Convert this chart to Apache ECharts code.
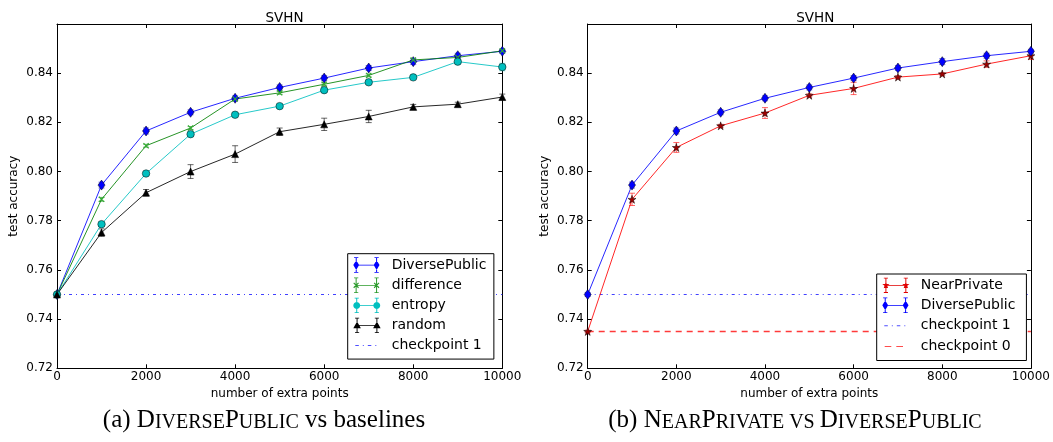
<!DOCTYPE html>
<html><head><meta charset="utf-8">
<script src="https://cdn.jsdelivr.net/npm/echarts@6/dist/echarts.min.js"></script>
<style>html,body{margin:0;padding:0;background:#fff}#c{width:1053px;height:442px}</style>
</head><body><div id="c"></div>
<script>
// ---------- data ----------
const xPoints = [0, 1000, 2000, 3000, 4000, 5000, 6000, 7000, 8000, 9000, 10000];
const xTicks = [0, 2000, 4000, 6000, 8000, 10000];
const yTicks = [0.72, 0.74, 0.76, 0.78, 0.80, 0.82, 0.84];

const diversePublic    = [0.7500, 0.7945, 0.8165, 0.8241, 0.8298, 0.8342, 0.8380, 0.8421, 0.8447, 0.8471, 0.8489];
const diversePublicErr = [0.0008, 0.0012, 0.0012, 0.0010, 0.0010, 0.0010, 0.0010, 0.0010, 0.0012, 0.0010, 0.0008];
const difference       = [0.7500, 0.7887, 0.8105, 0.8177, 0.8295, 0.8320, 0.8355, 0.8391, 0.8454, 0.8464, 0.8491];
const differenceErr    = [0.0005, 0.0008, 0.0006, 0.0006, 0.0006, 0.0006, 0.0006, 0.0006, 0.0006, 0.0006, 0.0006];
const entropy          = [0.7500, 0.7786, 0.7992, 0.8152, 0.8231, 0.8266, 0.8331, 0.8363, 0.8383, 0.8447, 0.8425];
const entropyErr       = [0.0005, 0.0008, 0.0008, 0.0008, 0.0006, 0.0006, 0.0008, 0.0008, 0.0006, 0.0008, 0.0015];
const random           = [0.7500, 0.7752, 0.7914, 0.8000, 0.8071, 0.8162, 0.8192, 0.8224, 0.8263, 0.8274, 0.8303];
const randomErr        = [0.0005, 0.0015, 0.0013, 0.0028, 0.0034, 0.0015, 0.0025, 0.0025, 0.0010, 0.0008, 0.0012];
const nearPrivate      = [0.7350, 0.7887, 0.8098, 0.8186, 0.8238, 0.8310, 0.8338, 0.8384, 0.8397, 0.8437, 0.8471];
const nearPrivateErr   = [0.0005, 0.0025, 0.0020, 0.0006, 0.0022, 0.0006, 0.0025, 0.0006, 0.0005, 0.0013, 0.0015];
const checkpoint1 = 0.75;
const checkpoint0 = 0.735;

const titles = ['SVHN', 'SVHN'];
const xName = 'number of extra points';
const yName = 'test accuracy';

// ---------- style ----------
const FONT = 'DejaVu Sans';
const SERIF = 'Liberation Serif';
const BLUE = '#0000ff', GREEN = '#008000', CYAN = '#00bfbf', BLACK = '#000000', RED = '#ff0000';

// ---------- marker paths ----------
const rect = (x1, y1, x2, y2) => `M${x1},${y1}H${x2}V${y2}H${x1}Z`;
const tiny = (x, y) => `M${x},${y}L${x + 0.05},${y}L${x},${y + 0.05}Z`;
function poly(pts) { return 'M' + pts.map(p => p[0].toFixed(2) + ',' + p[1].toFixed(2)).join('L') + 'Z'; }
function markerPath(type, cx, cy, s) {
  if (type === 'diamond') return poly([[cx, cy - 50 * s], [cx + 30 * s, cy], [cx, cy + 50 * s], [cx - 30 * s, cy]]);
  if (type === 'circle') { const p = []; for (let i = 0; i < 20; i++) { const a = i / 20 * Math.PI * 2; p.push([cx + 36 * s * Math.cos(a), cy + 36 * s * Math.sin(a)]); } return poly(p); }
  if (type === 'triangle') return poly([[cx, cy - 40 * s], [cx + 40 * s, cy + 30 * s], [cx - 40 * s, cy + 30 * s]]);
  if (type === 'x') {
    const a = 25 * s, t = 4 * s;
    return poly([[cx - a + t, cy - a - t], [cx + a + t, cy + a - t], [cx + a - t, cy + a + t], [cx - a - t, cy - a + t]]) +
           poly([[cx + a - t, cy - a - t], [cx + a + t, cy - a + t], [cx - a + t, cy + a + t], [cx - a - t, cy + a - t]]);
  }
  if (type === 'star') { const p = []; for (let i = 0; i < 10; i++) { const a = -Math.PI / 2 + i * Math.PI / 5; const r = (i % 2 ? 0.382 : 1) * 40 * s; p.push([cx + r * Math.cos(a), cy + r * Math.sin(a)]); } return poly(p); }
  return '';
}
const symbolOf = t => t === 'x' || t === 'star' ? 'path://' + markerPath(t, 0, 0, 1) : t;

const IW = 33.4, IH = 16; // legend icon size (px); path units = px*10
function errIcon(marker) {
  let p = tiny(0, 0) + tiny(IW * 10 - 0.1, IH * 10 - 0.1);
  p += rect(20, 76, 230, 84);
  for (const cx of [20, 230]) {
    p += rect(cx - 5, 0, cx + 5, 160) + rect(cx - 22, 0, cx + 22, 8) + rect(cx - 22, 152, cx + 22, 160);
    p += markerPath(marker, cx, 80, 1);
  }
  return 'path://' + p;
}
function dashIcon(segs) {
  let p = tiny(0, 0) + tiny(IW * 10 - 0.1, IH * 10 - 0.1);
  for (const s of segs) p += rect(s[0], 75, s[1], 85);
  return 'path://' + p;
}
const dashDotIcon = dashIcon([[20, 55], [95, 105], [145, 180], [220, 230]]);
const dashedIcon = dashIcon([[24, 90], [140, 207]]);

// ---------- series builders ----------
function lineSeries(name, ys, g, o) {
  return {
    type: 'line', name, xAxisIndex: g * 2, yAxisIndex: g * 2,
    data: xPoints.map((x, i) => [x, ys[i]]),
    symbol: symbolOf(o.symbol), symbolSize: o.size, showAllSymbol: true,
    lineStyle: { color: o.line, width: 1, opacity: 0.85 },
    itemStyle: { color: o.fill, borderColor: '#000', borderWidth: o.bw === undefined ? 0.5 : o.bw },
    emphasis: { disabled: true }, silent: true, z: 3
  };
}
function errSeries(name, ys, errs, g, color) {
  return {
    type: 'custom', name: name + ' error', xAxisIndex: g * 2, yAxisIndex: g * 2,
    data: xPoints.map((x, i) => [x, ys[i], errs[i]]),
    encode: { x: 0, y: 1 }, silent: true, z: 3,
    renderItem(params, api) {
      const x = api.value(0), y = api.value(1), e = api.value(2);
      const t = api.coord([x, y + e]), b = api.coord([x, y - e]);
      const w = 3, st = { stroke: color, lineWidth: 1 };
      return { type: 'group', children: [
        { type: 'line', shape: { x1: t[0], y1: t[1], x2: b[0], y2: b[1] }, style: st },
        { type: 'line', shape: { x1: t[0] - w, y1: t[1], x2: t[0] + w, y2: t[1] }, style: st },
        { type: 'line', shape: { x1: b[0] - w, y1: b[1], x2: b[0] + w, y2: b[1] }, style: st }
      ] };
    }
  };
}
function hLine(name, v, g, color, type, width) {
  return {
    type: 'line', name, xAxisIndex: g * 2, yAxisIndex: g * 2,
    data: [[xPoints[0], v], [xPoints[xPoints.length - 1], v]], symbol: 'none',
    lineStyle: { color, width: width || 1, type, opacity: 1, cap: 'butt' }, itemStyle: { color },
    emphasis: { disabled: true }, silent: true, z: 2
  };
}

// ---------- axes ----------
const axisLine = { show: true, onZero: false, lineStyle: { color: '#000', width: 1 } };
const axisTick = { show: true, inside: true, length: 4, lineStyle: { color: '#000', width: 1 } };
function xAx(g, pos) {
  const main = pos === 'bottom';
  return {
    type: 'value', gridIndex: g, position: pos, min: xTicks[0], max: xTicks[xTicks.length - 1],
    interval: xTicks[1] - xTicks[0], axisLine, axisTick, splitLine: { show: false },
    axisLabel: { show: main, color: '#000', fontSize: 12, fontFamily: FONT, margin: 3, formatter: v => String(v) },
    name: main ? xName : '', nameLocation: 'middle', nameGap: 18,
    nameTextStyle: { color: '#000', fontSize: 12, fontFamily: FONT }
  };
}
function yAx(g, pos) {
  const main = pos === 'left';
  return {
    type: 'value', gridIndex: g, position: pos, min: yTicks[0], max: 0.86,
    interval: 0.02, axisLine, axisTick, splitLine: { show: false },
    axisLabel: { show: main, color: '#000', fontSize: 12, fontFamily: FONT, margin: 4, showMaxLabel: false,
      formatter: v => v.toFixed(2) },
    name: main ? yName : '', nameLocation: 'middle', nameGap: 37, nameRotate: 90,
    nameTextStyle: { color: '#000', fontSize: 12, fontFamily: FONT }
  };
}

const legendBase = {
  orient: 'vertical', itemWidth: IW, itemHeight: IH, itemGap: 4.7,
  backgroundColor: '#fff', borderColor: '#000', borderWidth: 1, borderRadius: 0,
  textStyle: { color: '#000', fontSize: 14, fontFamily: FONT },
  itemStyle: { borderWidth: 0 }, selectedMode: false
};

const option = {
  animation: false,
  backgroundColor: '#fff',
  title: [
    { text: titles[0], left: 279.5, top: 6, textAlign: 'center', textStyle: { fontSize: 13.5, fontWeight: 'normal', color: '#000', fontFamily: FONT } },
    { text: titles[1], left: 810.2, top: 6, textAlign: 'center', textStyle: { fontSize: 13.5, fontWeight: 'normal', color: '#000', fontFamily: FONT } }
  ],
  grid: [
    { left: 57, right: 1053 - 502.3, top: 24, bottom: 442 - 368.3 },
    { left: 587.7, right: 1053 - 1032.7, top: 24, bottom: 442 - 368.3 }
  ],
  xAxis: [xAx(0, 'bottom'), xAx(0, 'top'), xAx(1, 'bottom'), xAx(1, 'top')],
  yAxis: [yAx(0, 'left'), yAx(0, 'right'), yAx(1, 'left'), yAx(1, 'right')],
  legend: [
    Object.assign({}, legendBase, {
      left: 347.7, top: 253.7, padding: [3.6, 7.5, 5.5, 5.6],
      data: [
        { name: 'DiversePublic', icon: errIcon('diamond'), itemStyle: { color: BLUE } },
        { name: 'difference', icon: errIcon('x'), itemStyle: { color: '#2a9a2a' } },
        { name: 'entropy', icon: errIcon('circle'), itemStyle: { color: CYAN } },
        { name: 'random', icon: errIcon('triangle'), itemStyle: { color: BLACK } },
        { name: 'checkpoint 1', icon: dashDotIcon, itemStyle: { color: '#4d4dff' } }
      ]
    }),
    Object.assign({}, legendBase, {
      left: 876.7, top: 274, padding: [3.7, 6.6, 6, 5.6],
      data: [
        { name: 'NearPrivate', icon: errIcon('star'), itemStyle: { color: '#e00000' } },
        { name: 'DiversePublic ', icon: errIcon('diamond'), itemStyle: { color: BLUE } },
        { name: 'checkpoint 1 ', icon: dashDotIcon, itemStyle: { color: '#4d4dff' } },
        { name: 'checkpoint 0', icon: dashedIcon, itemStyle: { color: '#ff4d4d' } }
      ]
    })
  ],
  series: [
    hLine('checkpoint 1', checkpoint1, 0, '#4040ff', [3, 4, 1, 4], 1.2),
    errSeries('DiversePublic', diversePublic, diversePublicErr, 0, 'rgba(0,0,255,0.55)'),
    lineSeries('DiversePublic', diversePublic, 0, { symbol: 'diamond', size: [7, 10], line: BLUE, fill: BLUE }),
    errSeries('difference', difference, differenceErr, 0, 'rgba(0,128,0,0.5)'),
    lineSeries('difference', difference, 0, { symbol: 'x', size: 6, line: GREEN, fill: '#33aa33', bw: 0 }),
    errSeries('entropy', entropy, entropyErr, 0, 'rgba(0,191,191,0.55)'),
    lineSeries('entropy', entropy, 0, { symbol: 'circle', size: 7.5, line: CYAN, fill: CYAN }),
    errSeries('random', random, randomErr, 0, 'rgba(0,0,0,0.6)'),
    lineSeries('random', random, 0, { symbol: 'triangle', size: 7, line: BLACK, fill: BLACK }),

    hLine('checkpoint 1 ', checkpoint1, 1, '#4040ff', [3, 4, 1, 4], 1.2),
    hLine('checkpoint 0', checkpoint0, 1, '#ff3a3a', [6, 5], 1.5),
    errSeries('NearPrivate', nearPrivate, nearPrivateErr, 1, 'rgba(255,0,0,0.6)'),
    lineSeries('NearPrivate', nearPrivate, 1, { symbol: 'star', size: 8, line: RED, fill: '#a00000' }),
    errSeries('DiversePublic ', diversePublic, diversePublicErr, 1, 'rgba(0,0,255,0.55)'),
    lineSeries('DiversePublic ', diversePublic, 1, { symbol: 'diamond', size: [7, 10], line: BLUE, fill: BLUE })
  ],
  graphic: [
    { type: 'text', x: 264, y: 420, style: {
      text: '{n|(a) D}{s|IVERSE}{n|P}{s|UBLIC}{n| vs baselines}', align: 'center', verticalAlign: 'middle',
      rich: { n: { fontSize: 25, fontFamily: SERIF, fill: '#000', verticalAlign: 'bottom' },
              s: { fontSize: 20, fontFamily: SERIF, fill: '#000', verticalAlign: 'bottom' } } } },
    { type: 'text', x: 795, y: 420, style: {
      text: '{n|(b) N}{s|EAR}{n|P}{s|RIVATE VS }{n|D}{s|IVERSE}{n|P}{s|UBLIC}', align: 'center', verticalAlign: 'middle',
      rich: { n: { fontSize: 25, fontFamily: SERIF, fill: '#000', verticalAlign: 'bottom' },
              s: { fontSize: 20, fontFamily: SERIF, fill: '#000', verticalAlign: 'bottom' } } } }
  ]
};

const chart = echarts.init(document.getElementById('c'));
chart.setOption(option);
</script>
</body></html>
